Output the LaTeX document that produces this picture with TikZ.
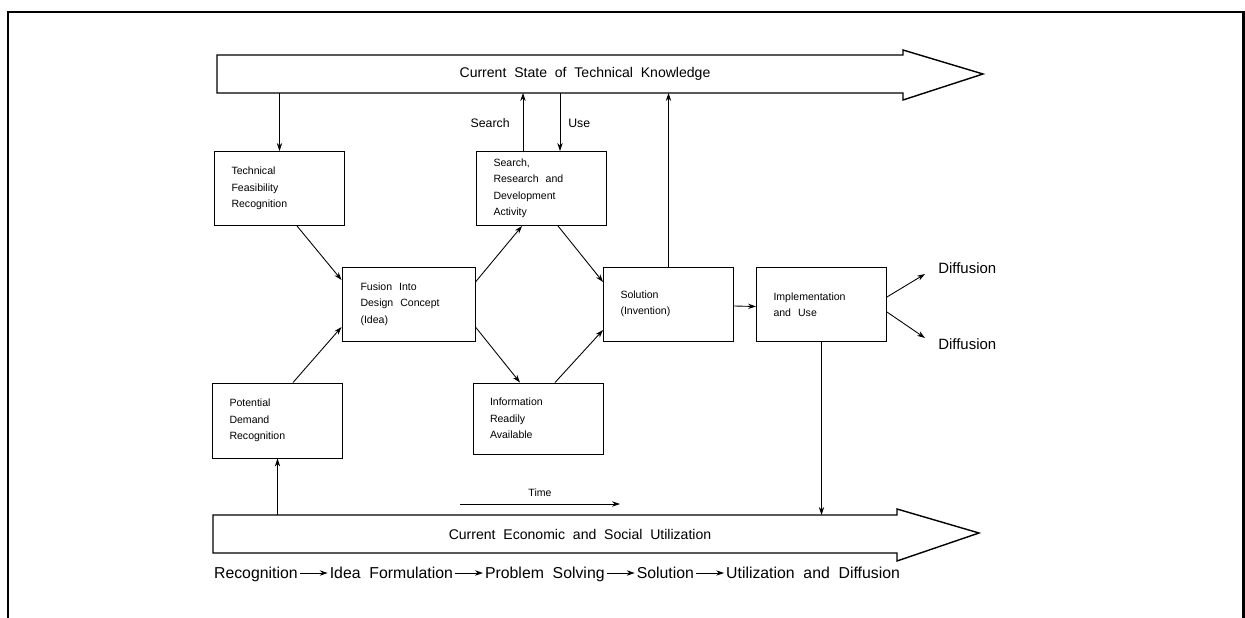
\documentclass[tikz,border=0pt]{standalone}
\usepackage{fontspec}
\setmainfont{Liberation Sans}
\usetikzlibrary{arrows.meta, positioning, calc}

\begin{document}
\begin{tikzpicture}[x=0.02cm, y=-0.02cm,
  box/.style={draw, line width=0.55pt, minimum width=2.6cm, minimum height=1.48cm,
    text width=1.92cm, inner xsep=0.34cm, align=left,
    font=\fontsize{6}{9.4}\selectfont},
  link/.style={-{Stealth[length=4.5pt,width=3pt]}, line width=0.5pt},
  bigarrow/.style={line width=0.8pt},
  bartext/.style={font=\fontsize{8}{10}\selectfont},
  sidetext/.style={inner sep=0pt, font=\fontsize{7}{9}\selectfont},
  difftext/.style={inner sep=0pt, font=\fontsize{8.5}{10}\selectfont},
  seqtext/.style={inner sep=1pt, text height=1.6ex, text depth=0.5ex,
    font=\fontsize{9}{11}\selectfont},
  node distance=0.56cm]
  \useasboundingbox (0,0) rectangle (1245,618);

  % Frame
  \draw[line width=1.7pt] (8,618) -- (8,12) -- (1243,12) -- (1243,618);

  % Big arrows
  \draw[bigarrow] (217,55) -- (903,55) -- (903,50) -- (983,74) -- (903,100)
    -- (903,93) -- (217,93) -- cycle;
  \draw[bigarrow] (213,515) -- (897,515) -- (897,509) -- (979,533) -- (897,561)
    -- (897,553) -- (213,553) -- cycle;
  \node[bartext] (know) at (585,74) {Current\ \ State\ \ of\ \ Technical\ \ Knowledge};
  \node[bartext] (econ) at (580,534) {Current\ \ Economic\ \ and\ \ Social\ \ Utilization};
  \coordinate (kbot) at (560,93);
  \coordinate (etop) at (560,515);

  % Boxes
  \node[box] (tech) at (279.5,188.5) {Technical\\ Feasibility\\ Recognition};
  \node[box] (search) at (541.5,188.5) {Search,\\ Research\ \ and\\ Development\\ Activity};
  \node[box, minimum width=2.66cm] (fusion) at (408.5,304) {Fusion\ \ Into\\ Design\ \ Concept\\ (Idea)};
  \node[box] (sol) at (668.5,304) {Solution\\ (Invention)};
  \node[box] (impl) at (821.5,304.5) {Implementation\\ and\ \ Use};
  \node[box, minimum height=1.42cm] (info) at (538,418.5) {Information\\ Readily\\ Available};
  \node[box, minimum height=1.5cm] (pot) at (277.5,420.5) {Potential\\ Demand\\ Recognition};

  % Links to and from the big arrows
  \coordinate (sup) at ($(search.north)+(-18.5,0)$);
  \coordinate (sdown) at ($(search.north)+(18.5,0)$);
  \draw[link] (tech.north |- kbot) -- (tech.north);
  \draw[link] (sup) -- (sup |- kbot);
  \draw[link] (sdown |- kbot) -- (sdown);
  \draw[link] (sol.north) -- (sol.north |- kbot);
  \draw[link] (impl.south) -- (impl.south |- etop);
  \draw[link] (pot.south |- etop) -- (pot.south);
  \node[sidetext, anchor=east] (srch) at (510,123) {Search};
  \node[sidetext, anchor=west] (use) at (568,123) {Use};

  % Links between boxes
  \draw[link] ($(tech.south)+(17.5,0)$) -- ($(fusion.west)+(0,-24)$);
  \draw[link] ($(pot.north)+(15.5,0)$) -- ($(fusion.west)+(0,23)$);
  \draw[link] ($(fusion.east)+(0,-22)$) -- ($(search.south)+(-19.5,0)$);
  \draw[link] ($(fusion.east)+(0,23)$) -- ($(info.north)+(-18,0)$);
  \draw[link] ($(search.south)+(16.5,0)$) -- ($(sol.west)+(0,-22)$);
  \draw[link] ($(info.north)+(17,0)$) -- ($(sol.west)+(0,26)$);
  \draw[link] ($(sol.east)+(0,2)$) -- ($(impl.west)+(0,2)$);

  % Diffusion
  \node[difftext, anchor=west] (diffa) at (938,268) {Diffusion};
  \node[difftext, anchor=west] (diffb) at (938,344) {Diffusion};
  \draw[link] ($(impl.east)+(0,-7.5)$) -- ($(diffa.west)+(-13,6)$);
  \draw[link] ($(impl.east)+(0,7.5)$) -- ($(diffb.west)+(-13,-6)$);

  % Time
  \coordinate (ta) at (460,504);
  \coordinate (tb) at (620,504);
  \draw[link] (ta) -- (tb);
  \node[font=\fontsize{6}{8}\selectfont] (time) at (540,493) {Time};

  % Sequence of stages
  \node[seqtext, anchor=west] (rec) at (212,573) {Recognition};
  \node[seqtext, right=of rec] (idea) {Idea\ \ Formulation};
  \node[seqtext, right=of idea] (prob) {Problem\ \ Solving};
  \node[seqtext, right=of prob] (solu) {Solution};
  \node[seqtext, right=of solu] (util) {Utilization\ \ and\ \ Diffusion};
  \foreach \a/\b in {rec/idea, idea/prob, prob/solu, solu/util}
    \draw[link] (\a.east) -- (\b.west);
\end{tikzpicture}
\end{document}
